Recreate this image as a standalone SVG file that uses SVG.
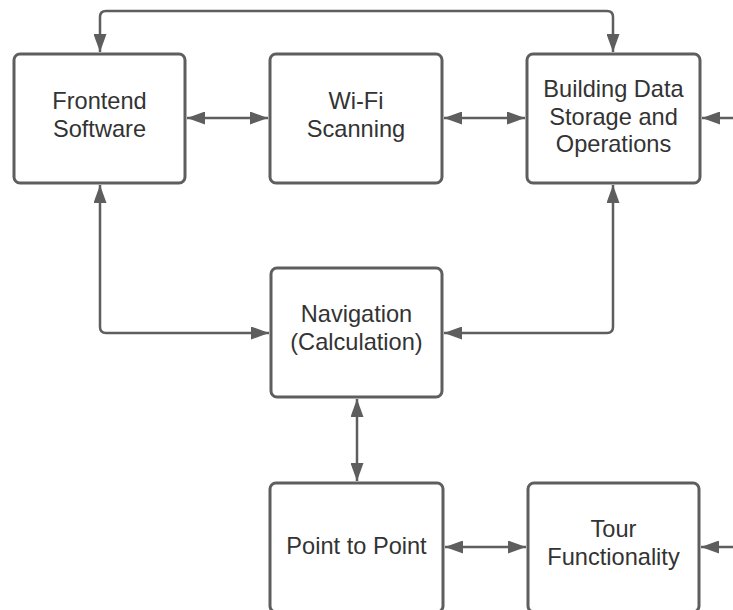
<svg xmlns="http://www.w3.org/2000/svg" width="733" height="610" viewBox="0 0 733 610">
<style>
.box{fill:#fff;stroke:#5e5e5e;stroke-width:3}
.lbl{font-family:"Liberation Sans",Arial,sans-serif;font-size:23.6px;fill:#333;text-anchor:middle}
.c{fill:none;stroke:#5e5e5e;stroke-width:2.5}
</style>
<defs>
<marker id="ah" viewBox="0 0 18 13" refX="18" refY="6.5" markerWidth="18" markerHeight="13" markerUnits="userSpaceOnUse" orient="auto-start-reverse">
<path d="M0,0 L18,6.5 L0,13 z" fill="#5e5e5e"/>
</marker>
</defs>
<rect width="733" height="610" fill="#fff"/>
<g id="connectors">
<path class="c" d="M100,52 V17 Q100,11 106,11 H607 Q613,11 613,17 V52" marker-start="url(#ah)" marker-end="url(#ah)"/>
<path class="c" d="M187,118 H268" marker-start="url(#ah)" marker-end="url(#ah)"/>
<path class="c" d="M444,118 H525" marker-start="url(#ah)" marker-end="url(#ah)"/>
<path class="c" d="M733,118 H702" marker-end="url(#ah)"/>
<path class="c" d="M100,185 V327 Q100,333 106,333 H269" marker-start="url(#ah)" marker-end="url(#ah)"/>
<path class="c" d="M613,185 V327 Q613,333 607,333 H444" marker-start="url(#ah)" marker-end="url(#ah)"/>
<path class="c" d="M357,399 V481" marker-start="url(#ah)" marker-end="url(#ah)"/>
<path class="c" d="M445,547 H526" marker-start="url(#ah)" marker-end="url(#ah)"/>
<path class="c" d="M733,547 H701" marker-end="url(#ah)"/>
</g>
<g id="frontend">
<rect class="box" x="14" y="54" width="171" height="129" rx="6"/>
<text class="lbl" x="99.5" y="109">Frontend</text>
<text class="lbl" x="99.5" y="137">Software</text>
</g>
<g id="wifi">
<rect class="box" x="270" y="54" width="172" height="129" rx="6"/>
<text class="lbl" x="356" y="109">Wi-Fi</text>
<text class="lbl" x="356" y="137">Scanning</text>
</g>
<g id="building">
<rect class="box" x="527" y="54" width="173" height="129" rx="6"/>
<text class="lbl" x="613.5" y="97">Building Data</text>
<text class="lbl" x="613.5" y="124.5">Storage and</text>
<text class="lbl" x="613.5" y="152">Operations</text>
</g>
<g id="navigation">
<rect class="box" x="271" y="268" width="171" height="129" rx="6"/>
<text class="lbl" x="356.5" y="322">Navigation</text>
<text class="lbl" x="356.5" y="349.5">(Calculation)</text>
</g>
<g id="p2p">
<rect class="box" x="270" y="483" width="173" height="129" rx="6"/>
<text class="lbl" x="356.5" y="554">Point to Point</text>
</g>
<g id="tour">
<rect class="box" x="528" y="483" width="171" height="129" rx="6"/>
<text class="lbl" x="613.5" y="537">Tour</text>
<text class="lbl" x="613.5" y="564.5">Functionality</text>
</g>
</svg>
